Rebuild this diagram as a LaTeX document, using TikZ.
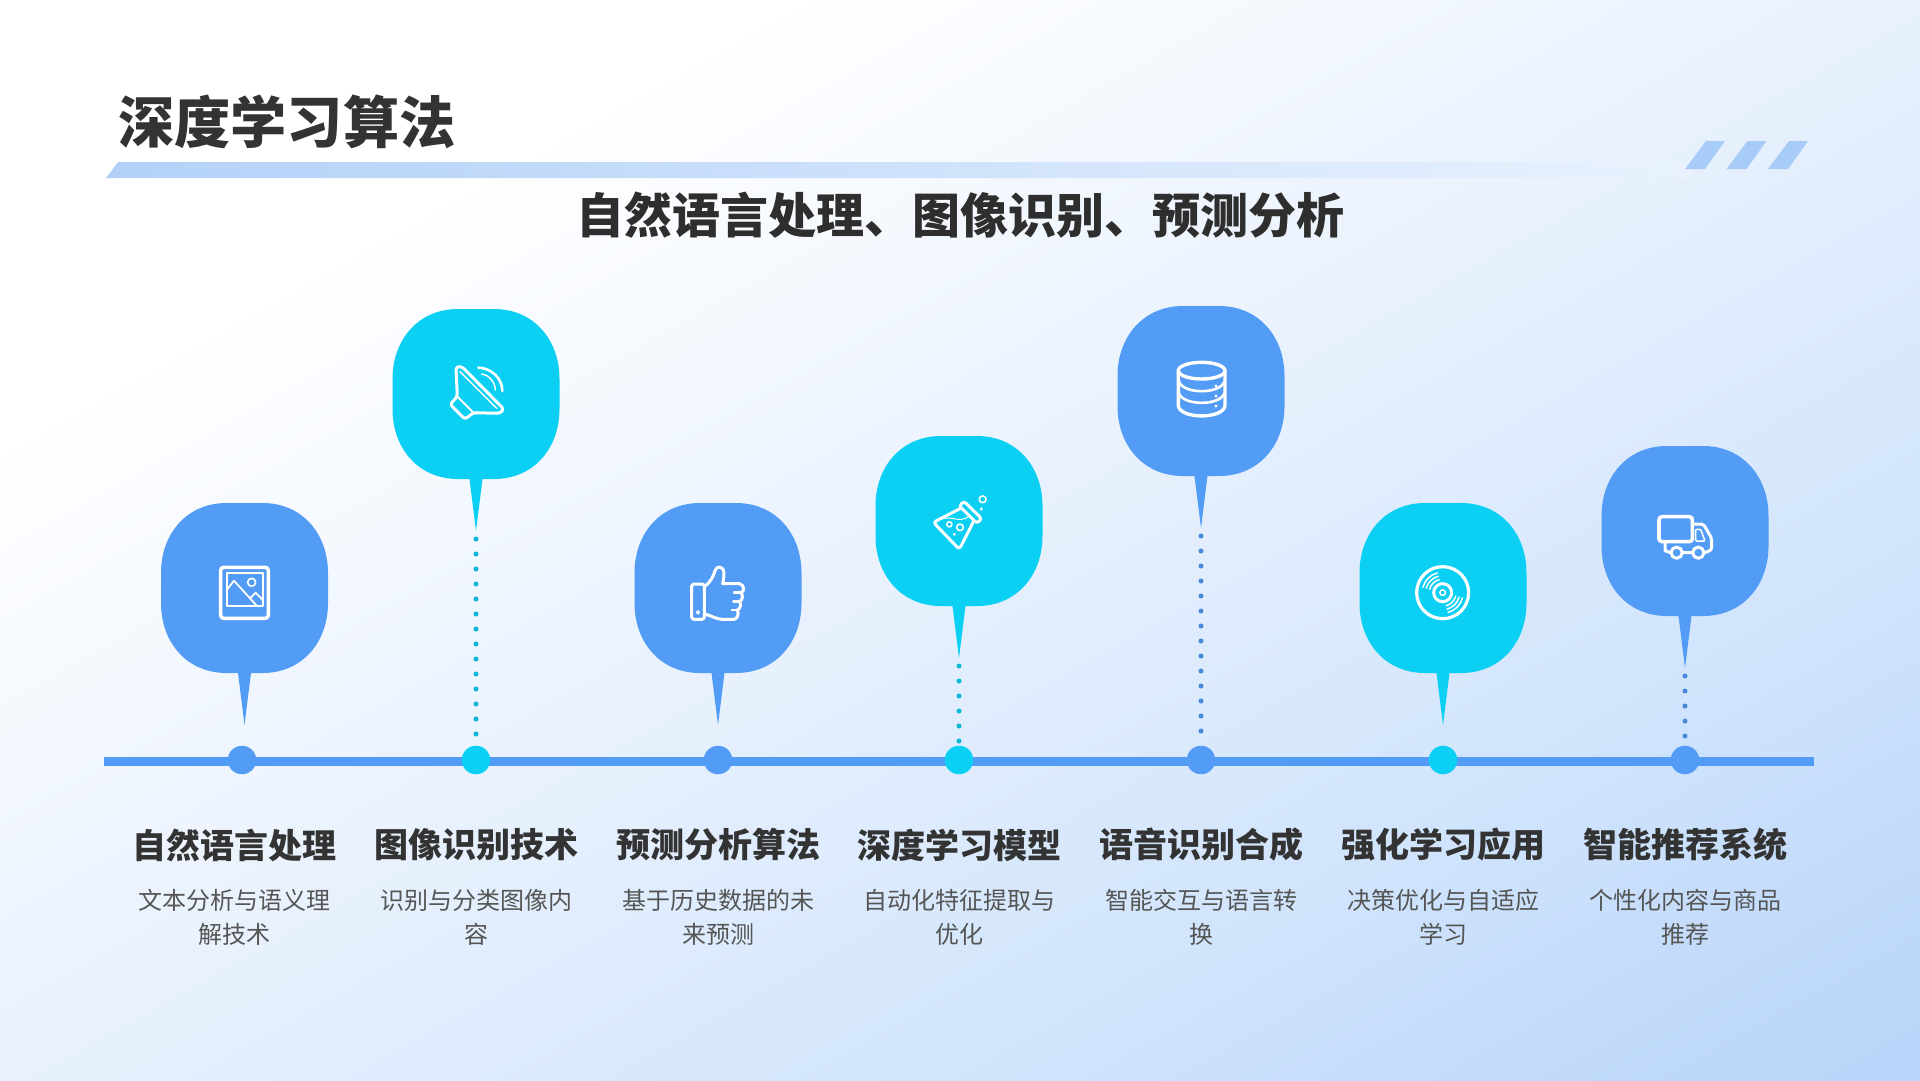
\documentclass[tikz,border=0pt]{standalone}
\usepackage{fontspec}
\setmainfont{Noto Sans CJK SC}
\usetikzlibrary{positioning}
\definecolor{pinblue}{HTML}{529CF5}
\definecolor{pincyan}{HTML}{0BD0F4}
\definecolor{inkdark}{HTML}{333333}
\definecolor{inkgray}{HTML}{555555}
\definecolor{stripeblue}{HTML}{A6CCF7}
\definecolor{barleft}{HTML}{B3D1F8}
\definecolor{barright}{HTML}{E9F2FE}
\definecolor{fadeA}{HTML}{E8F1FD}
\definecolor{fadeB}{HTML}{D0E4FC}
\definecolor{fadeC}{HTML}{B8D4F9}
\pgfdeclarehorizontalshading{pagefade}{100bp}{
  color(0bp)=(white); color(28.8bp)=(white);
  color(50bp)=(fadeA);
  color(68.4bp)=(fadeB);
  color(85.4bp)=(fadeC);
  color(100bp)=(fadeC)}
\tikzset{
  iconbase/.style={x=0.3333pt, y=-0.3333pt, draw=white, line join=round, line cap=round},
  pics/pinbody/.style={code={
    \fill (-83.5,-15) .. controls (-83.5,-54) and (-58,-85) .. (-18,-85)
      -- (18,-85) .. controls (58,-85) and (83.5,-54) .. (83.5,-15)
      -- (83.5,15) .. controls (83.5,54) and (58,85) .. (18,85)
      -- (6.5,85) -- (0,137) -- (-6.5,85) -- (-18,85)
      .. controls (-58,85) and (-83.5,54) .. (-83.5,15) -- cycle;
    \coordinate (-tip) at (0,137);
  }},
  pics/iconimage/.style={code={
    \begin{scope}[iconbase]
      \draw[line width=3.5pt, rounded corners=3pt] (242,232) rectangle (385,385);
      \draw[line width=1.8pt] (260,250) rectangle (370,348);
      \draw[line width=1.8pt] (262,298) -- (282,272) -- (350,347);
      \draw[line width=1.8pt] (330,325) -- (347,308) -- (370,332);
      \draw[line width=1.6pt] (335,277) circle[radius=4pt];
    \end{scope}
  }},
  pics/iconspeaker/.style={code={
    \begin{scope}[iconbase]
      \draw[line width=3pt, rounded corners=3pt] (232,290) -- (228,200) -- (246,200)
        -- (372,328) -- (360,340) -- (280,338) -- (255,358) -- (210,313) -- cycle;
      \draw[line width=1.5pt] (240,215) -- (350,325);
      \draw[line width=2pt] (232,290) -- (280,338);
      \draw[line width=2.6pt] (295,203) .. controls (335,205) and (367,235) .. (367,273);
      \draw[line width=1.5pt] (305,222) .. controls (328,225) and (346,248) .. (346,270);
    \end{scope}
  }},
  pics/iconthumb/.style={code={
    \begin{scope}[iconbase]
      \draw[line width=3pt, rounded corners=2.5pt] (95,132) rectangle (133,238);
      \draw[line width=1.2pt] (114,217) circle[radius=1.6pt];
      \draw[line width=3pt] (133,140) .. controls (150,130) and (162,105) .. (165,92)
        .. controls (170,75) and (192,78) .. (192,100) .. controls (192,112) and (190,122) .. (188,131)
        -- (238,131) .. controls (254,133) and (254,156) .. (243,158)
        .. controls (250,165) and (248,182) .. (238,185)
        .. controls (244,192) and (242,207) .. (232,210)
        .. controls (238,220) and (232,238) .. (222,238)
        -- (185,238) .. controls (165,236) and (150,225) .. (133,222);
      \draw[line width=2.4pt] (222,158) -- (243,158) (220,185) -- (238,185) (215,210) -- (232,210);
    \end{scope}
  }},
  pics/iconflask/.style={code={
    \begin{scope}[iconbase]
      \draw[line width=3pt, rounded corners=2.5pt] (178,108) -- (192,94) -- (245,146) -- (231,160) -- cycle;
      \draw[line width=3pt, rounded corners=3pt] (184,114) -- (100,157) -- (178,238) -- (222,152);
      \draw[line width=1pt] (122,148) .. controls (150,135) and (180,160) .. (205,140);
      \draw[line width=1.5pt] (148,163) circle[radius=2.6pt];
      \draw[line width=1.6pt] (180,172) circle[radius=3.3pt];
      \fill[white] (163,193) circle[radius=1.5pt];
      \draw[line width=1.6pt] (248,88) circle[radius=3.4pt];
      \fill[white] (244,117) circle[radius=1.6pt];
    \end{scope}
  }},
  pics/icondb/.style={code={
    \begin{scope}[iconbase]
      \draw[line width=3.4pt] (155,92) ellipse[x radius=70, y radius=25];
      \draw[line width=3.4pt] (85,92) -- (85,197) .. controls (90,238) and (220,238) .. (225,197) -- (225,92);
      \draw[line width=2.6pt] (87,125) .. controls (100,163) and (210,163) .. (223,125);
      \draw[line width=2.6pt] (87,160) .. controls (100,198) and (210,198) .. (223,160);
      \foreach \dy in {138,168,198}
        \fill[white] (198,\dy) circle[radius=1.6pt];
    \end{scope}
  }},
  pics/icondisc/.style={code={
    \begin{scope}[iconbase]
      \draw[line width=3.2pt] (158,158) circle[radius=26pt];
      \draw[line width=3pt] (158,158) circle[radius=9pt];
      \draw[line width=1.5pt] (158,158) circle[radius=2.8pt];
      \foreach \rr in {13.5,17,20.5} {
        \draw[line width=1.5pt] (158,158) ++(105:\rr pt) arc[start angle=105, end angle=165, radius=\rr pt];
        \draw[line width=1.5pt] (158,158) ++(285:\rr pt) arc[start angle=285, end angle=345, radius=\rr pt];
      }
    \end{scope}
  }},
  pics/icontruck/.style={code={
    \begin{scope}[iconbase]
      \draw[line width=3.6pt, rounded corners=3pt] (87,80) rectangle (187,155);
      \draw[line width=3pt, rounded corners=2pt] (187,102) -- (220,102) -- (245,145) -- (245,180) -- (224,188);
      \draw[line width=3pt] (105,155) -- (105,182) -- (122,188) (157,188) -- (188,188);
      \draw[line width=3pt] (140,188) circle[radius=5.6pt] (205,188) circle[radius=5.6pt];
      \draw[line width=1.5pt, rounded corners=1pt] (197,118) -- (212,118) -- (225,153) -- (197,153) -- cycle;
    \end{scope}
  }}
}
\begin{document}
\begin{tikzpicture}[
    x=1pt, y=-1pt,
    headlbl/.style={font=\fontsize{56.2}{60}\selectfont\bfseries, text=inkdark, inner sep=0pt},
    sublbl/.style={font=\fontsize{48}{52}\selectfont\bfseries, text=inkdark!90!black, inner sep=0pt},
    itemlbl/.style={font=\fontsize{34}{38}\selectfont\bfseries, text=inkdark, inner sep=0pt},
    desclbl/.style={font=\fontsize{24}{34}\selectfont, text=inkgray, align=center, inner sep=0pt},
    stopdot/.style={circle, minimum size=28.5pt, inner sep=0pt},
    dotline/.style={line width=5pt, line cap=round, dash pattern=on 0pt off 15pt, dash phase=7pt}
  ]
  \useasboundingbox (0,0) rectangle (1920,1080);
  \path[shading=pagefade, shading angle=-45, transform canvas={xscale=1.77778}] (0,0) rectangle (1080,1080);

  \node[headlbl, anchor=west] (head) at (118,122) {深度学习算法};
  \shade[left color=barleft, right color=barright] (118,162) -- (1690,162) -- (1690,178) -- (106,178) -- cycle;
  \foreach \i in {0,1,2} {
    \fill[stripeblue] (1685+\i*41.5,169) -- (1706+\i*41.5,141) -- (1725+\i*41.5,141) -- (1705+\i*41.5,169) -- cycle;
  }
  \node[sublbl] (subhead) at (960,215) {自然语言处理、图像识别、预测分析};

  \coordinate (axisL) at (104,761.5);
  \coordinate (axisR) at (1814,761.5);
  \draw[pinblue, line width=9pt] (axisL) -- (axisR);

  \foreach \cx/\dx/\tx/\cy/\dotted/\ic/\ox/\oy/\itemtxt/\desctxt [count=\i from 1] in {
      244.5/242/234/588/0/iconimage/140/490/自然语言处理/{文本分析与语义理\\解技术},
      476/476/476/394/1/iconspeaker/380/300/图像识别技术/{识别与分类图像内\\容},
      718/718/718/588/0/iconthumb/660/540/预测分析算法/{基于历史数据的未\\来预测},
      959/959/959/521/1/iconflask/900/470/深度学习模型/{自动化特征提取与\\优化},
      1201/1201/1201/391/1/icondb/1150/340/语音识别合成/{智能交互与语言转\\换},
      1443/1443/1443/588/0/icondisc/1390/540/强化学习应用/{决策优化与自适应\\学习},
      1685/1685/1685/531/1/icontruck/1630/490/智能推荐系统/{个性化内容与商品\\推荐}} {
    \pgfmathsetmacro{\pincol}{mod(\i,2) == 1 ? "pinblue" : "pincyan"}
    \pic[fill=\pincol] (pin\i) at (\cx,\cy) {pinbody};
    \node[stopdot, fill=\pincol] (stop\i) at (\dx,760) {};
    \ifnum\dotted=1
      \draw[dotline, draw=\pincol!88!black, shorten >=1pt] (pin\i-tip) -- (stop\i.north);
    \fi
    \pic at (\ox,\oy) {\ic};
    \node[itemlbl] (item\i) at (\tx,845) {\itemtxt};
    \node[desclbl] (desc\i) at (\tx,917.5) {\desctxt};
  }
\end{tikzpicture}
\end{document}
